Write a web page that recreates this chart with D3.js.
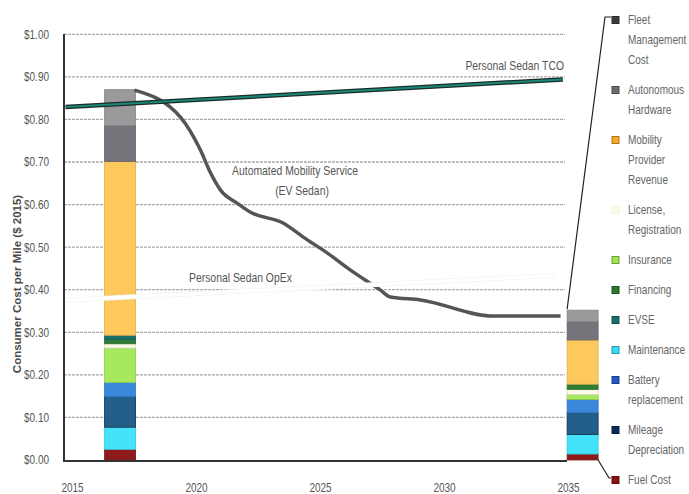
<!DOCTYPE html>
<html>
<head>
<meta charset="utf-8">
<script src="https://cdn.jsdelivr.net/npm/d3@7"></script>
<style>
  body { margin: 0; background: #fff; }
  svg { display: block; }
  text { font-family: "Liberation Sans", Arial, sans-serif; fill: #555; }
</style>
</head>
<body>
<svg width="689" height="494"></svg>
<script>
// ticks
const yTicks = [0, 0.1, 0.2, 0.3, 0.4, 0.5, 0.6, 0.7, 0.8, 0.9, 1.0];
const xTicks = [2015, 2020, 2025, 2030, 2035];

// stacked bars (bottom to top)
const barYears = [2017, 2035.65];
const segNames = ["Fuel Cost", "Maintenance", "Mileage Depreciation", "Battery replacement",
                  "Insurance", "License, Registration", "Financing", "EVSE",
                  "Mobility Provider Revenue", "Autonomous Hardware", "Fleet Management Cost"];
const segColors = ["#8e1b1b", "#45e2fb", "#245f8c", "#3a88dc",
                   "#a6e85e", "#fdfbea", "#2f7d34", "#1d6d6b",
                   "#fec95c", "#76737a", "#9a9a9c"];
const bar2017 = [0.025, 0.052, 0.072, 0.033, 0.081, 0.010, 0.010, 0.010, 0.408, 0.085, 0.084];
const bar2035 = [0.014, 0.046, 0.051, 0.031, 0.012, 0.012, 0.012, 0.000, 0.104, 0.043, 0.027];

// lines
const amsYears = [2017.58, 2019.44, 2020.24, 2020.65, 2021.05, 2021.73, 2022.26, 2023.59,
                  2024.40, 2025.36, 2026.29, 2027.50, 2027.90, 2029.11, 2032.06, 2034.76];
const amsValues = [0.869, 0.805, 0.728, 0.674, 0.634, 0.603, 0.582, 0.556,
                   0.523, 0.486, 0.446, 0.399, 0.383, 0.376, 0.338, 0.338];
const tcoYears = [2014.8, 2034.85];
const tcoValues = [0.829, 0.894];
const opexYears = [2014.8, 2034.6];
const opexValues = [0.375, 0.434];

// legend (top to bottom)
const legendLabels = ["Fleet|Management|Cost", "Autonomous|Hardware", "Mobility|Provider|Revenue",
                      "License,|Registration", "Insurance", "Financing", "EVSE", "Maintenance",
                      "Battery|replacement", "Mileage|Depreciation", "Fuel Cost"];
const legendColors = ["#3d3d3f", "#6b6b6d", "#f7a928", "#fdfde6", "#9fe24f", "#2a7a2e",
                      "#17706f", "#38d8f6", "#2358c2", "#0d2c57", "#8a1212"];

const svg = d3.select("svg");
const area = { left: 64, right: 567, top: 34, bottom: 461 };
const narrow = 0.8;  // text in the picture is condensed

const scX = d3.scaleLinear().domain([2015, 2035]).range([70.5, 566.5]);
const scY = d3.scaleLinear().domain([0, 1]).range([460, 34.3]);

// condensed text: draw at origin and squeeze horizontally
function label(parent, x, y, str, anchor, size) {
    return parent.append("text")
        .attr("transform", `translate(${x},${y}) scale(${narrow},1)`)
        .attr("dy", "0.35em")
        .attr("text-anchor", anchor)
        .style("font-size", size + "px")
        .text(str);
}

// grid
svg.append("g")
    .selectAll("line")
    .data(yTicks.filter(d => d > 0))
    .enter()
    .append("line")
    .attr("x1", area.left)
    .attr("x2", 565)
    .attr("y1", d => scY(d))
    .attr("y2", d => scY(d))
    .style("stroke", "#a9a9a9")
    .style("stroke-width", 1.3)
    .style("stroke-dasharray", "3,1");

// tick labels
const gy = svg.append("g");
yTicks.forEach(d => label(gy, 49, scY(d), "$" + d.toFixed(2), "end", 12.5));
const gx = svg.append("g");
xTicks.forEach(d => label(gx, scX(d) + 2, 488, d, "middle", 12.5));

svg.append("text")
    .attr("transform", "translate(21, 284) rotate(-90)")
    .attr("text-anchor", "middle")
    .style("font-size", "11.5px")
    .style("font-weight", "bold")
    .style("fill", "#4a4a4a")
    .text("Consumer Cost per Mile ($ 2015)");

// bars
const barW = 31;
[bar2017, bar2035].forEach((vals, i) => {
    let acc = 0;
    const segs = vals.map((v, k) => {
        const s = { y0: acc, y1: acc + v, color: segColors[k], name: segNames[k] };
        acc += v;
        return s;
    }).filter(s => s.y1 > s.y0);

    svg.append("g")
        .selectAll("rect")
        .data(segs)
        .enter()
        .append("rect")
        .attr("x", scX(barYears[i]) - barW / 2)
        .attr("y", d => scY(d.y1))
        .attr("width", barW)
        .attr("height", d => scY(d.y0) - scY(d.y1))
        .style("fill", d => d.color)
        .style("stroke", d => d.name === "Mileage Depreciation" ? "#0f2f4a" :
                               d3.color(d.color).darker(0.4))
        .style("stroke-width", 0.8);
});

// line helper
const line = d3.line()
    .x(d => scX(d[0]))
    .y(d => scY(d[1]));

// Automated Mobility Service
svg.append("path")
    .datum(d3.zip(amsYears, amsValues))
    .attr("d", line.curve(d3.curveMonotoneX))
    .style("fill", "none")
    .style("stroke", "#555557")
    .style("stroke-width", 3.5);

// Personal Sedan TCO
const tco = d3.zip(tcoYears, tcoValues);
svg.append("path")
    .datum(tco)
    .attr("d", line.curve(d3.curveLinear))
    .style("fill", "none")
    .style("stroke", "#1b2b2a")
    .style("stroke-width", 4.5);
svg.append("path")
    .datum(tco)
    .attr("d", line)
    .style("fill", "none")
    .style("stroke", "#1c8676")
    .style("stroke-width", 2);

// Personal Sedan OpEx
const opex = d3.zip(opexYears, opexValues);
svg.append("path")
    .datum(opex)
    .attr("d", line)
    .style("fill", "none")
    .style("stroke", "#f3f3f1")
    .style("stroke-width", 5);
svg.append("path")
    .datum(opex)
    .attr("d", line)
    .style("fill", "none")
    .style("stroke", "#ffffff")
    .style("stroke-width", 3.5);

// axes frame
svg.append("path")
    .attr("d", `M${area.left},${area.top}V${area.bottom}H${area.right}`)
    .style("fill", "none")
    .style("stroke", "#333")
    .style("stroke-width", 2);

// line labels
const gl = svg.append("g");
label(gl, 564, 65, "Personal Sedan TCO", "end", 13);
label(gl, 295, 170, "Automated Mobility Service", "middle", 13);
label(gl, 302, 190, "(EV Sedan)", "middle", 13);
label(gl, 189, 277, "Personal Sedan OpEx", "start", 13);

// legend
const lineH = 20, gap = 10;
let ly = 20;
const legendItems = legendLabels.map((l, i) => {
    const lines = l.split("|");
    const item = { lines: lines, y: ly, color: legendColors[i] };
    ly += lines.length * lineH + gap;
    return item;
});

const lg = svg.append("g");
legendItems.forEach(d => {
    lg.append("rect")
        .attr("x", 612).attr("y", d.y - 3.5)
        .attr("width", 7).attr("height", 7)
        .style("fill", d.color)
        .style("stroke", d.color === "#fdfde6" ? "#f4f4dc" : d3.color(d.color).darker(1))
        .style("stroke-width", 1);
    lg.append("text")
        .attr("transform", `translate(628,${d.y}) scale(${narrow},1)`)
        .style("font-size", "12.5px")
        .style("fill", "#666")
        .selectAll("tspan")
        .data(d.lines)
        .enter()
        .append("tspan")
        .attr("x", 0)
        .attr("y", (t, k) => k * lineH)
        .attr("dy", "0.35em")
        .text(t => t);
});

// bracket from legend to 2035 bar
const bx = scX(barYears[1]) - barW / 2;
const bTop = scY(d3.sum(bar2035));
const first = legendItems[0], last = legendItems[legendItems.length - 1];
svg.append("path")
    .attr("d", `M${bx},${bTop - 1}L${605},${first.y - 3}L${611},${first.y - 3}`)
    .style("fill", "none")
    .style("stroke", "#222")
    .style("stroke-width", 1.2);
svg.append("path")
    .attr("d", `M${bx + barW},${scY(0)}L${609},${last.y - 2}L${611},${last.y - 2}`)
    .style("fill", "none")
    .style("stroke", "#222")
    .style("stroke-width", 1.2);
</script>
</body>
</html>
